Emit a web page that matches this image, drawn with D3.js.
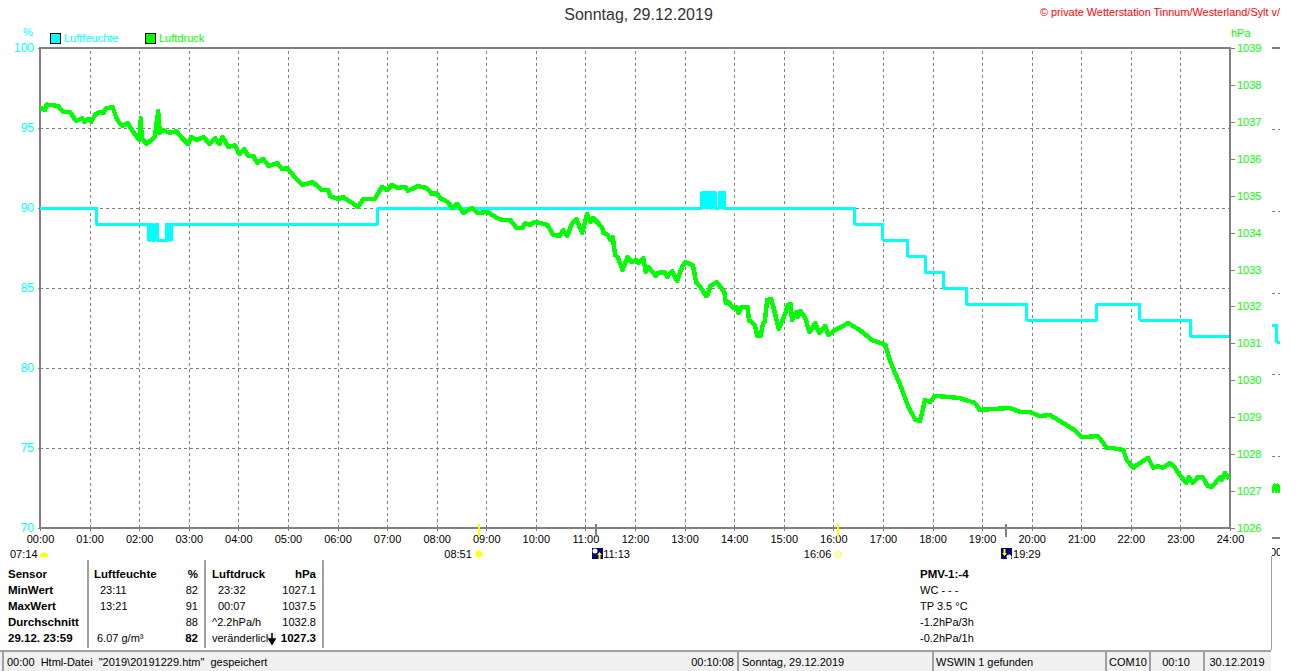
<!DOCTYPE html>
<html>
<head>
<meta charset="utf-8">
<script src="https://cdn.jsdelivr.net/npm/d3@7"></script>
<style>
  html, body { margin: 0; padding: 0; background: #ffffff; overflow: hidden; }
  svg { display: block; }
  text { font-family: "Liberation Sans", Arial, sans-serif; font-size: 11px; fill: #000000; }
  .bold { font-weight: bold; font-size: 11.5px; }
  .grid line { stroke: #808080; stroke-dasharray: 3 3; shape-rendering: crispEdges; }
  .grid path { display: none; }
  .axis path { display: none; }
  .axis line { stroke: #808080; shape-rendering: crispEdges; }
  .frame { fill: none; stroke: #808080; stroke-width: 2; shape-rendering: crispEdges; }
  .series { fill: none; shape-rendering: crispEdges; stroke-linejoin: round; }
</style>
</head>
<body>
<svg width="1310" height="671"></svg>
<script>
const hourTicks = d3.range(0, 25)
const humTicks = [100, 95, 90, 85, 80, 75, 70]
const pressTicks = d3.range(1026, 1040)

// Luftdruck, minutes since midnight / hPa
const pressMin = [0, 6, 8, 22, 28, 36, 44, 51, 54, 58, 62, 67, 73, 77, 80, 88, 92, 96, 100, 106, 113, 120, 122, 123, 129, 139, 143, 145, 149, 157, 165, 172, 179, 183, 190, 198, 205, 212, 217, 221, 228, 236, 241, 247, 252, 258, 263, 270, 277, 287, 293, 299, 311, 318, 330, 341, 349, 351, 361, 367, 378, 385, 391, 405, 414, 420, 426, 433, 442, 445, 457, 468, 474, 480, 484, 493, 499, 505, 512, 523, 530, 541, 553, 559, 569, 577, 584, 587, 593, 599, 614, 621, 629, 633, 638, 644, 649, 656, 662, 666, 669, 680, 682, 687, 690, 693, 696, 699, 705, 711, 716, 722, 724, 730, 733, 736, 745, 748, 756, 759, 765, 771, 777, 781, 790, 794, 799, 806, 808, 811, 819, 828, 830, 833, 839, 843, 845, 849, 856, 858, 865, 868, 872, 875, 877, 880, 885, 889, 894, 902, 905, 908, 910, 915, 917, 920, 926, 931, 935, 938, 943, 950, 954, 962, 978, 992, 1007, 1023, 1029, 1041, 1050, 1059, 1065, 1071, 1077, 1083, 1113, 1131, 1137, 1174, 1186, 1198, 1210, 1222, 1240, 1252, 1261, 1280, 1283, 1291, 1297, 1311, 1315, 1323, 1331, 1341, 1347, 1353, 1359, 1367, 1373, 1379, 1387, 1390, 1395, 1401, 1407, 1413, 1418, 1428, 1430, 1434, 1439]
const pressVal = [1037.39, 1037.32, 1037.47, 1037.43, 1037.27, 1037.27, 1037.02, 1037.10, 1037.00, 1037.08, 1037.00, 1037.21, 1037.27, 1037.24, 1037.37, 1037.40, 1037.13, 1036.97, 1036.89, 1036.97, 1036.72, 1036.51, 1037.10, 1036.56, 1036.40, 1036.59, 1037.29, 1036.70, 1036.78, 1036.70, 1036.75, 1036.56, 1036.40, 1036.59, 1036.51, 1036.59, 1036.40, 1036.56, 1036.40, 1036.59, 1036.32, 1036.37, 1036.13, 1036.26, 1036.08, 1036.08, 1035.89, 1036.00, 1035.80, 1035.89, 1035.72, 1035.75, 1035.43, 1035.29, 1035.37, 1035.15, 1035.15, 1034.99, 1034.91, 1034.96, 1034.80, 1034.69, 1034.91, 1034.91, 1035.24, 1035.15, 1035.29, 1035.21, 1035.24, 1035.13, 1035.26, 1035.21, 1035.05, 1035.07, 1034.94, 1034.83, 1034.67, 1034.78, 1034.53, 1034.67, 1034.53, 1034.56, 1034.40, 1034.34, 1034.34, 1034.12, 1034.12, 1034.26, 1034.21, 1034.29, 1034.21, 1033.94, 1033.91, 1034.07, 1033.91, 1034.26, 1034.37, 1033.99, 1034.50, 1034.29, 1034.40, 1034.15, 1033.99, 1033.94, 1033.80, 1033.88, 1033.39, 1033.34, 1032.99, 1033.34, 1033.20, 1033.26, 1033.18, 1033.31, 1032.93, 1033.07, 1032.83, 1032.91, 1032.93, 1032.80, 1032.96, 1032.69, 1033.07, 1033.20, 1033.12, 1032.66, 1032.53, 1032.28, 1032.31, 1032.55, 1032.66, 1032.39, 1032.09, 1032.12, 1031.96, 1031.99, 1031.82, 1031.99, 1031.99, 1031.63, 1031.50, 1031.20, 1031.20, 1031.55, 1031.58, 1032.18, 1032.20, 1031.85, 1031.39, 1031.82, 1032.04, 1032.07, 1031.63, 1031.85, 1031.71, 1031.88, 1031.69, 1031.31, 1031.42, 1031.55, 1031.28, 1031.47, 1031.23, 1031.36, 1031.55, 1031.36, 1031.09, 1030.96, 1030.50, 1029.87, 1029.33, 1028.93, 1028.90, 1029.47, 1029.41, 1029.58, 1029.52, 1029.39, 1029.20, 1029.25, 1029.14, 1029.14, 1029.03, 1029.06, 1028.82, 1028.65, 1028.46, 1028.49, 1028.41, 1028.17, 1028.17, 1028.11, 1027.84, 1027.63, 1027.76, 1027.90, 1027.63, 1027.68, 1027.63, 1027.76, 1027.65, 1027.44, 1027.22, 1027.38, 1027.22, 1027.38, 1027.38, 1027.14, 1027.11, 1027.38, 1027.30, 1027.49, 1027.33]

// Luftfeuchte, value holds until the next minute in the list
const humMin = [0, 68, 131, 134, 135, 139, 142, 153, 154, 155, 156, 159, 409, 801, 803, 804, 807, 808, 811, 812, 814, 815, 817, 822, 825, 826, 828, 986, 1020, 1050, 1071, 1093, 1121, 1194, 1279, 1331, 1392, 1439]
const humVal = [90, 89, 88, 89, 88, 89, 88, 89, 88, 89, 88, 89, 90, 91, 90, 91, 90, 91, 90, 91, 90, 91, 90, 91, 90, 91, 90, 89, 88, 87, 86, 85, 84, 83, 84, 83, 82, 82]

// start of the next day, only a few pixels of it are visible at the right edge
const nextHumMin = [0, 6, 10]
const nextHumVal = [83, 82, 82]
const nextPressMin = [0, 3, 5, 7, 10]
const nextPressVal = [1027.2, 1027.4, 1027.25, 1027.4, 1027.2]

const sunEvents = [
  { min: 531, label: "08:51", tick: "#ffff00" },
  { min: 673, label: "11:13", tick: "#808080" },
  { min: 966, label: "16:06", tick: "#ffff00" },
  { min: 1169, label: "19:29", tick: "#808080" }
]

const tableLeft = ["Sensor", "MinWert", "MaxWert", "Durchschnitt", "29.12. 23:59"]
const humTime = ["23:11", "13:21", "", "6.07 g/m³"]
const humNums = ["82", "91", "88", "82"]
const pressTime = ["23:32", "00:07", "^2.2hPa/h", "veränderlich"]
const pressNums = ["1027.1", "1037.5", "1032.8", "1027.3"]
const pmvLines = ["WC - - -", "TP 3.5 °C", "-1.2hPa/3h", "-0.2hPa/1h"]

const svg = d3.select("svg")

const xScale = d3.scaleLinear().domain([0, 1440]).range([40, 1230])
const humScale = d3.scaleLinear().domain([70, 100]).range([528, 48])
const pressScale = d3.scaleLinear().domain([1026, 1039]).range([528, 48])

const nextX = d3.scaleLinear().domain([0, 1440]).range([1272, 2462])
const nextHum = d3.scaleLinear().domain([70, 100]).range([538, 48])
const nextPress = d3.scaleLinear().domain([1026, 1039]).range([538, 48])

// grid
svg.append("g")
  .attr("class", "grid")
  .attr("transform", "translate(0, 528)")
  .call(d3.axisBottom(xScale).tickValues(hourTicks.slice(1, -1).map(h => h * 60)).tickSize(-480).tickFormat(""))

svg.append("g")
  .attr("class", "grid")
  .attr("transform", "translate(40, 0)")
  .call(d3.axisLeft(humScale).tickValues(humTicks.slice(1, -1)).tickSize(-1190).tickFormat(""))

// axes
const bottomAxis = svg.append("g")
  .attr("class", "axis")
  .attr("transform", "translate(0, 528)")
  .call(d3.axisBottom(xScale)
    .tickValues(hourTicks.map(h => h * 60))
    .tickSize(3)
    .tickPadding(4)
    .tickFormat(m => d3.format("02")(m / 60) + ":00"))

const leftAxis = svg.append("g")
  .attr("class", "axis")
  .attr("transform", "translate(40, 0)")
  .call(d3.axisLeft(humScale).tickValues(humTicks).tickSize(2).tickPadding(4))

leftAxis.selectAll("text").style("fill", "#00ffff").style("font-size", "12px")

const rightAxis = svg.append("g")
  .attr("class", "axis")
  .attr("transform", "translate(1230, 0)")
  .call(d3.axisRight(pressScale).tickValues(pressTicks).tickSize(5).tickPadding(2).tickFormat(d3.format("d")))

rightAxis.selectAll("text").style("fill", "#00ff00")

svg.append("rect")
  .attr("class", "frame")
  .attr("x", xScale.range()[0])
  .attr("y", humScale.range()[1])
  .attr("width", xScale.range()[1] - xScale.range()[0])
  .attr("height", humScale.range()[0] - humScale.range()[1])

// series
const humLine = d3.line()
  .x((d, i) => xScale(humMin[i]))
  .y((d, i) => humScale(d))
  .curve(d3.curveStepAfter)

const pressLine = d3.line()
  .x((d, i) => xScale(pressMin[i]))
  .y((d, i) => pressScale(d))

svg.append("path")
  .attr("class", "series")
  .attr("d", humLine(humVal))
  .attr("stroke", "#00ffff")
  .attr("stroke-width", 3)

svg.append("path")
  .attr("class", "series")
  .attr("d", pressLine(pressVal))
  .attr("stroke", "#00ff00")
  .attr("stroke-width", 4.4)

// sun and moon marks under the axis
const events = svg.selectAll("g.event")
  .data(sunEvents)
  .enter()
  .append("g")
  .attr("class", "event")
  .attr("transform", d => `translate(${xScale(d.min)}, 0)`)

events.append("line")
  .attr("y1", 524)
  .attr("y2", 537)
  .attr("stroke", d => d.tick)
  .attr("stroke-width", 2)
  .style("shape-rendering", "crispEdges")

events.append("text")
  .attr("y", 558)
  .attr("x", (d, i) => i % 2 == 0 ? -7 : 7)
  .attr("text-anchor", (d, i) => i % 2 == 0 ? "end" : "start")
  .text(d => d.label)

const sunX = xScale(sunEvents[0].min)
d3.range(0, 360, 45).forEach(a => {
  svg.append("line")
    .attr("x1", sunX + 3.5 * Math.cos(a * Math.PI / 180))
    .attr("y1", 554 + 3.5 * Math.sin(a * Math.PI / 180))
    .attr("x2", sunX + 6 * Math.cos(a * Math.PI / 180))
    .attr("y2", 554 + 6 * Math.sin(a * Math.PI / 180))
    .attr("stroke", "#ffff66")
})
svg.append("circle").attr("cx", sunX).attr("cy", 554).attr("r", 3).attr("fill", "#ffff00")

svg.append("rect")
  .attr("x", xScale(sunEvents[2].min) - 2.5)
  .attr("y", 552)
  .attr("width", 5)
  .attr("height", 5)
  .attr("rx", 1)
  .attr("fill", "none")
  .attr("stroke", "#ffff00")

// sunrise at the left
svg.append("path")
  .attr("d", d3.arc().innerRadius(0).outerRadius(4.5).startAngle(-Math.PI / 2).endAngle(Math.PI / 2)())
  .attr("transform", "translate(44, 557)")
  .attr("fill", "#ffff00")

svg.append("text").attr("x", 10).attr("y", 558).text("07:14")

// moon icons
function moonIcon(x, up) {
  const g = svg.append("g").attr("transform", `translate(${x}, 548)`)
  g.append("rect").attr("width", 11).attr("height", 11).attr("fill", "#000080")
  g.append("circle")
    .attr("cx", up ? 3 : 8)
    .attr("cy", up ? 3 : 9)
    .attr("r", 2.5)
    .attr("fill", "#ffffff")
  g.append("path")
    .attr("d", up ? "M7.5 4 L10 7 L8.5 7 L8.5 11 L6.5 11 L6.5 7 L5 7 Z" : "M3.5 8 L1 5 L2.5 5 L2.5 1 L4.5 1 L4.5 5 L6 5 Z")
    .attr("fill", "#ffff00")
}
moonIcon(592, true)
moonIcon(1001, false)

// title and legend
svg.append("text")
  .attr("x", 638.5)
  .attr("y", 20)
  .attr("text-anchor", "middle")
  .style("font-size", "16px")
  .style("fill", "#333333")
  .text("Sonntag, 29.12.2019")

svg.append("text")
  .attr("x", 1040)
  .attr("y", 16)
  .style("font-size", "10.9px")
  .style("fill", "#ff0000")
  .text("© private Wetterstation Tinnum/Westerland/Sylt v/")

svg.append("text").attr("x", 23).attr("y", 36).style("fill", "#00ffff").text("%")
svg.append("text").attr("x", 1231).attr("y", 37).style("fill", "#00ff00").text("hPa")

const legend = [
  { x: 50, color: "#00ffff", label: "Luftfeuchte" },
  { x: 145, color: "#00ff00", label: "Luftdruck" }
]

legend.forEach(d => {
  svg.append("rect")
    .attr("x", d.x + 0.5)
    .attr("y", 33.5)
    .attr("width", 10)
    .attr("height", 10)
    .attr("fill", d.color)
    .attr("stroke", "#000000")
  svg.append("text")
    .attr("x", d.x + 14)
    .attr("y", 42)
    .style("fill", d.color)
    .text(d.label)
})

// stats table
const rowY = [578, 594, 610, 626, 642]

tableLeft.forEach((t, i) => {
  svg.append("text").attr("class", "bold").attr("x", 8).attr("y", rowY[i]).text(t)
})

const columns = [88, 205, 323]
columns.forEach(x => {
  svg.append("line")
    .attr("x1", x).attr("x2", x)
    .attr("y1", 560).attr("y2", 648)
    .attr("stroke", "#a0a0a0")
    .attr("stroke-width", 1.5)
    .style("shape-rendering", "crispEdges")
})

svg.append("text").attr("class", "bold").attr("x", 94).attr("y", rowY[0]).text("Luftfeuchte")
svg.append("text").attr("class", "bold").attr("x", 198).attr("y", rowY[0]).attr("text-anchor", "end").text("%")
svg.append("text").attr("class", "bold").attr("x", 212).attr("y", rowY[0]).text("Luftdruck")
svg.append("text").attr("class", "bold").attr("x", 316).attr("y", rowY[0]).attr("text-anchor", "end").text("hPa")

humTime.forEach((t, i) => {
  svg.append("text").attr("x", i == 3 ? 97 : 100).attr("y", rowY[i + 1]).text(t)
})
humNums.forEach((t, i) => {
  svg.append("text")
    .attr("class", i == 3 ? "bold" : null)
    .attr("x", 198)
    .attr("y", rowY[i + 1])
    .attr("text-anchor", "end")
    .text(t)
})
pressTime.forEach((t, i) => {
  svg.append("text").attr("x", i < 2 ? 218 : 212).attr("y", rowY[i + 1]).text(t)
})
pressNums.forEach((t, i) => {
  svg.append("text")
    .attr("class", i == 3 ? "bold" : null)
    .attr("x", 316)
    .attr("y", rowY[i + 1])
    .attr("text-anchor", "end")
    .text(t)
})

svg.append("rect").attr("x", 268).attr("y", 632).attr("width", 8).attr("height", 13).attr("fill", "#e8eef4")
svg.append("path")
  .attr("d", "M272 633 L272 642 M269 639 L272 644 L275 639 Z")
  .attr("stroke", "#000000")
  .attr("stroke-width", 1.5)
  .attr("fill", "#000000")

svg.append("text").attr("class", "bold").attr("x", 920).attr("y", rowY[0]).text("PMV-1:-4")
pmvLines.forEach((t, i) => {
  svg.append("text").attr("x", 920).attr("y", rowY[i + 1]).text(t)
})

// status bar
svg.append("rect").attr("x", 0).attr("y", 650).attr("width", 1271).attr("height", 21).attr("fill", "#f0f0f0")
svg.append("rect").attr("x", 0).attr("y", 650).attr("width", 1271).attr("height", 2).attr("fill", "#a0a0a0")

const panels = [2, 737, 932, 1105, 1149, 1203]
panels.forEach(x => {
  svg.append("rect").attr("x", x).attr("y", 652).attr("width", 2).attr("height", 19).attr("fill", "#a0a0a0")
})

const statusTexts = [
  { x: 7, anchor: "start", label: "00:00  Html-Datei  \"2019\\20191229.htm\"  gespeichert" },
  { x: 734, anchor: "end", label: "00:10:08" },
  { x: 742, anchor: "start", label: "Sonntag, 29.12.2019" },
  { x: 936, anchor: "start", label: "WSWIN 1 gefunden" },
  { x: 1109, anchor: "start", label: "COM10" },
  { x: 1176, anchor: "middle", label: "00:10" },
  { x: 1237, anchor: "middle", label: "30.12.2019" }
]

statusTexts.forEach(d => {
  svg.append("text")
    .attr("x", d.x)
    .attr("y", 666)
    .attr("text-anchor", d.anchor)
    .attr("xml:space", "preserve")
    .style("white-space", "pre")
    .text(d.label)
})

svg.append("line")
  .attr("x1", 1271.5).attr("x2", 1271.5)
  .attr("y1", 556).attr("y2", 650)
  .attr("stroke", "#a0a0a0")

// next day sliver at the right edge
svg.append("clipPath")
  .attr("id", "sliver")
  .append("rect")
  .attr("x", 1272)
  .attr("y", 0)
  .attr("width", 8)
  .attr("height", 671)

const sliver = svg.append("g").attr("clip-path", "url(#sliver)")

sliver.append("line")
  .attr("x1", 1272).attr("x2", 1280)
  .attr("y1", 48).attr("y2", 48)
  .attr("stroke", "#808080").attr("stroke-width", 2)
  .style("shape-rendering", "crispEdges")

sliver.append("line")
  .attr("x1", 1272).attr("x2", 1280)
  .attr("y1", 538).attr("y2", 538)
  .attr("stroke", "#808080").attr("stroke-width", 2)
  .style("shape-rendering", "crispEdges")

humTicks.slice(1, -1).forEach(v => {
  sliver.append("line")
    .attr("x1", 1272).attr("x2", 1280)
    .attr("y1", nextHum(v)).attr("y2", nextHum(v))
    .attr("stroke", "#808080")
    .attr("stroke-dasharray", "3 3")
    .style("shape-rendering", "crispEdges")
})

sliver.append("path")
  .attr("class", "series")
  .attr("d", d3.line().x((d, i) => nextX(nextHumMin[i])).y(d => nextHum(d)).curve(d3.curveStepAfter)(nextHumVal))
  .attr("stroke", "#00ffff")
  .attr("stroke-width", 3)

sliver.append("path")
  .attr("class", "series")
  .attr("d", d3.line().x((d, i) => nextX(nextPressMin[i])).y(d => nextPress(d))(nextPressVal))
  .attr("stroke", "#00ff00")
  .attr("stroke-width", 3.5)

sliver.append("text").attr("x", 1270).attr("y", 556).text("00")
</script>
</body>
</html>
